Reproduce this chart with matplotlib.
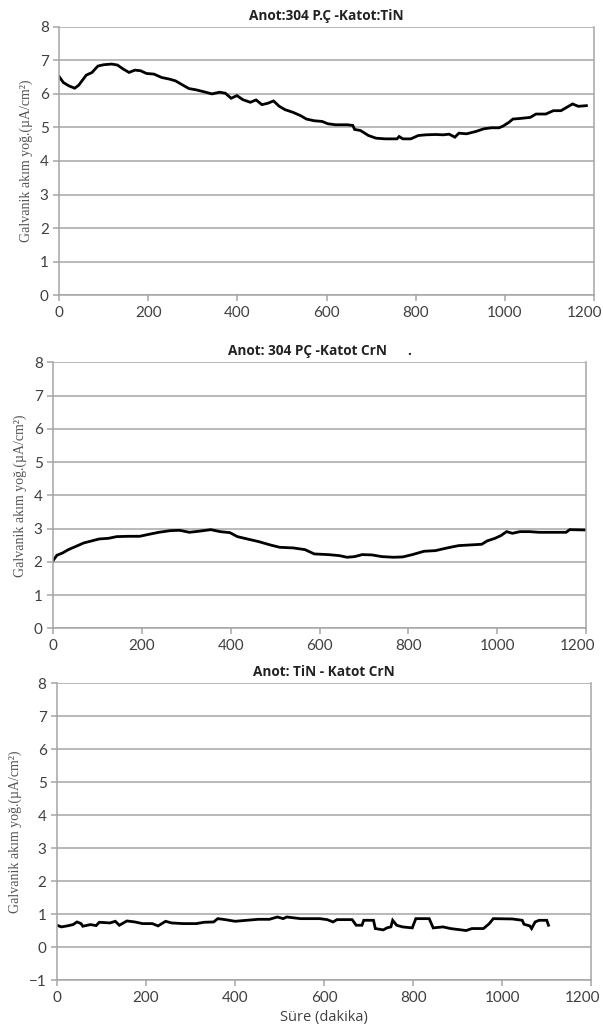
import matplotlib
matplotlib.use("Agg")
import matplotlib.pyplot as plt
import matplotlib.transforms as mtransforms

# Anot:304 P.Ç - Katot:TiN
t1 = [0, 9.5, 22, 35, 44, 53, 61, 74, 87, 100, 118, 131, 144, 157, 170, 183, 196, 213, 230, 248,
      261, 274, 291, 308, 326, 343, 360, 373, 386, 399, 412, 429, 442, 455, 468, 481, 494, 507,
      525, 542, 555, 572, 590, 603, 620, 646, 659, 663, 676, 694, 711, 732, 758, 763, 771, 789,
      806, 823, 845, 862, 875, 888, 897, 914, 935, 953, 970, 987, 996, 1010, 1018, 1036, 1057,
      1070, 1092, 1109, 1126, 1139, 1152, 1165, 1183]
i1 = [6.52, 6.34, 6.24, 6.17, 6.26, 6.42, 6.56, 6.64, 6.83, 6.87, 6.89, 6.86, 6.74, 6.64, 6.71,
      6.69, 6.61, 6.59, 6.49, 6.44, 6.39, 6.29, 6.16, 6.12, 6.06, 6.00, 6.05, 6.02, 5.87, 5.95,
      5.83, 5.75, 5.82, 5.68, 5.72, 5.79, 5.63, 5.53, 5.45, 5.35, 5.25, 5.20, 5.18, 5.11, 5.08,
      5.08, 5.06, 4.94, 4.91, 4.76, 4.68, 4.66, 4.66, 4.73, 4.66, 4.66, 4.76, 4.78, 4.79, 4.78,
      4.80, 4.71, 4.83, 4.81, 4.88, 4.96, 4.99, 4.99, 5.04, 5.16, 5.25, 5.27, 5.30, 5.40, 5.40,
      5.50, 5.50, 5.60, 5.70, 5.63, 5.65]

# Anot: 304 PÇ - Katot CrN
t2 = [0, 8.7, 21.6, 34.6, 52, 69, 86.5, 104, 125, 143, 169, 195, 216, 238, 264, 285, 307, 333,
      355, 376, 398, 415, 437, 463, 489, 510, 541, 567, 588, 619, 644, 662, 679, 696, 718, 740,
      766, 787, 809, 835, 861, 887, 913, 939, 965, 977, 995, 1008, 1021, 1034, 1051, 1073, 1094,
      1120, 1155, 1163, 1198]
i2 = [2.04, 2.20, 2.27, 2.37, 2.47, 2.57, 2.63, 2.69, 2.71, 2.76, 2.77, 2.77, 2.83, 2.89, 2.94,
      2.95, 2.89, 2.93, 2.97, 2.91, 2.88, 2.76, 2.69, 2.61, 2.51, 2.44, 2.42, 2.37, 2.24, 2.22,
      2.19, 2.14, 2.16, 2.22, 2.21, 2.16, 2.14, 2.15, 2.22, 2.32, 2.34, 2.42, 2.49, 2.51, 2.53,
      2.63, 2.71, 2.79, 2.91, 2.86, 2.91, 2.91, 2.89, 2.89, 2.89, 2.97, 2.96]

# Anot: TiN - Katot CrN
t3 = [0, 10, 23, 36, 45, 54, 58, 75, 88, 95, 119, 131, 140, 157, 175, 192, 214, 227, 244, 257,
      283, 313, 330, 352, 361, 378, 400, 426, 452, 477, 495, 508, 516, 547, 590, 607, 620, 629,
      663, 672, 685, 689, 711, 715, 733, 741, 750, 754, 763, 776, 798, 806, 836, 845, 867, 884,
      919, 932, 958, 971, 980, 1023, 1045, 1049, 1062, 1066, 1074, 1083, 1100, 1104]
i3 = [0.67, 0.62, 0.65, 0.69, 0.77, 0.72, 0.64, 0.69, 0.66, 0.76, 0.74, 0.79, 0.67, 0.80, 0.77,
      0.72, 0.72, 0.65, 0.79, 0.74, 0.72, 0.72, 0.76, 0.77, 0.87, 0.84, 0.79, 0.82, 0.85, 0.85,
      0.92, 0.87, 0.92, 0.87, 0.87, 0.84, 0.77, 0.84, 0.84, 0.67, 0.67, 0.82, 0.82, 0.57, 0.53,
      0.59, 0.62, 0.82, 0.67, 0.62, 0.59, 0.87, 0.87, 0.59, 0.62, 0.57, 0.51, 0.57, 0.57, 0.72,
      0.87, 0.86, 0.82, 0.70, 0.65, 0.57, 0.77, 0.82, 0.82, 0.67]

titles = ["Anot:304 P.Ç -Katot:TiN", "Anot: 304 PÇ -Katot CrN      .", "Anot: TiN - Katot CrN"]
ylabel = "Galvanik akım yoğ.(µA/cm²)"
xlabel = "Süre (dakika)"

GRID = "#a6a6a6"
TXT = "#404040"

fig = plt.figure(figsize=(6.03, 10.32), dpi=100)
# [left, bottom, width, height]
boxes = [[0.098, 0.714, 0.887, 0.260],
         [0.088, 0.391, 0.884, 0.258],
         [0.0945, 0.050, 0.886, 0.288]]
data = [(t1, i1), (t2, i2), (t3, i3)]
ylims = [(0, 8), (0, 8), (-1, 8)]

for k in range(3):
    ax = fig.add_axes(boxes[k])
    t, i = data[k]
    ax.plot(t, i, color="black", lw=2.0, solid_joinstyle="miter")
    ax.set_xlim(0, 1200)
    ax.set_ylim(*ylims[k])
    ax.set_xticks(range(0, 1201, 200))
    ax.set_yticks(range(ylims[k][0], 9))
    ax.yaxis.grid(True, color=GRID, lw=1.1)
    ax.set_axisbelow(True)
    for s in ["left", "bottom", "right"]:
        ax.spines[s].set_color(GRID)
        ax.spines[s].set_linewidth(1.1)
    ax.spines["top"].set_visible(False)
    ax.tick_params(axis="both", colors=GRID, length=4, width=1.1, labelsize=11,
                   labelcolor=TXT)
    for lab in ax.get_xticklabels() + ax.get_yticklabels():
        lab.set_family("Lato")
    # last x label sits a bit inside the edge, as in the reference
    last = ax.get_xticklabels()[-1]
    last.set_transform(last.get_transform() +
                       mtransforms.ScaledTranslation(-9 / 100, 0, fig.dpi_scale_trans))
    ax.set_title(titles[k], fontsize=9.8, fontweight="bold", family="Open Sans",
                 color="#222222", pad=5)
    ax.set_ylabel(ylabel, family="Liberation Serif", fontsize=10, color="#555555", labelpad=5)
    if k == 2:
        ax.set_xlabel(xlabel, family="Open Sans", fontsize=10.5, color=TXT, labelpad=4)

fig.savefig("out.png", dpi=100)
